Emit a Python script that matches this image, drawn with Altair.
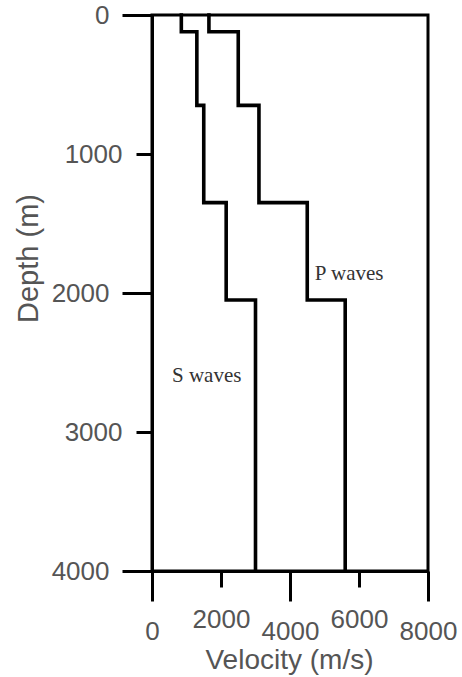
import altair as alt
import pandas as pd

# layer boundaries (m) and velocities (m/s)
depth_bounds = [0, 120, 650, 1350, 2050, 4000]
s_vel = [850, 1300, 1500, 2150, 3000]
p_vel = [1650, 2500, 3100, 4500, 5600]

x_ticks_long = [0, 4000, 8000]
x_ticks_short = [2000, 6000]
y_ticks_long = [0, 2000, 4000]
y_ticks_short = [1000, 3000]

labels_text = ["P waves", "S waves"]
labels_x = [4720, 580]
labels_y = [1910, 2640]

rows = []
for name, vels in [("P", p_vel), ("S", s_vel)]:
    k = 0
    for i, v in enumerate(vels):
        rows.append({"series": name, "v": v, "d": depth_bounds[i], "o": k}); k += 1
        rows.append({"series": name, "v": v, "d": depth_bounds[i + 1], "o": k}); k += 1
df = pd.DataFrame(rows)
lab = pd.DataFrame({"t": labels_text, "v": labels_x, "d": labels_y})

xscale = alt.Scale(domain=[0, 8000], nice=False, zero=False)
yscale = alt.Scale(domain=[0, 4000], reverse=True, nice=False, zero=False)

common = dict(
    grid=False, format="d", tickWidth=3, tickColor="black",
    domainColor="black", domainWidth=3,
    labelFont="Liberation Sans", labelFontSize=26, labelColor="#555555",
    labelFontWeight="normal", labelFlush=False, labelOverlap=False,
)

xaxis_long = alt.Axis(
    values=x_ticks_long, title="Velocity (m/s)", orient="bottom",
    tickSize=30, labelPadding=17, labelAngle=0,
    titleFont="Liberation Sans", titleFontSize=28, titleColor="#555555",
    titleFontWeight="normal", titleX=137, titleY=89, titleBaseline="middle",
    titleAlign="center", **common,
)
xaxis_short = alt.Axis(
    values=x_ticks_short, title=None, orient="bottom",
    tickSize=16, labelPadding=19, labelAngle=0, **common,
)
yaxis_long = alt.Axis(
    values=y_ticks_long, title="Depth (m)", orient="left",
    tickSize=30, labelPadding=13, labelBaseline="middle",
    titleFont="Liberation Sans", titleFontSize=29, titleColor="#555555",
    titleFontWeight="normal", titleX=-124, titleY=243, titleBaseline="middle",
    titleAlign="center", titleAngle=270, **common,
)
yaxis_short = alt.Axis(
    values=y_ticks_short, title=None, orient="left",
    tickSize=16, labelPadding=14, labelBaseline="middle", **common,
)

lines = alt.Chart(df).mark_line(
    color="black", strokeWidth=3.6, strokeJoin="miter", strokeCap="square"
).encode(
    x=alt.X("v:Q", scale=xscale, axis=xaxis_long),
    y=alt.Y("d:Q", scale=yscale, axis=yaxis_long),
    detail="series:N",
    order="o:Q",
)

texts = alt.Chart(lab).mark_text(
    font="Liberation Serif", fontSize=21, color="#333333", align="left",
    baseline="alphabetic"
).encode(
    x=alt.X("v:Q", scale=xscale, axis=xaxis_short),
    y=alt.Y("d:Q", scale=yscale, axis=yaxis_short),
    text="t:N",
)

chart = alt.layer(lines, texts).resolve_axis(
    x="independent", y="independent"
).properties(
    width=276, height=556,
    autosize=alt.AutoSizeParams(type="none"),
    padding={"left": 152, "top": 15, "right": 34, "bottom": 106},
    background="white",
).configure_view(stroke="black", strokeWidth=3)

chart.save("out.html", embed_options={"renderer": "svg", "actions": False})
